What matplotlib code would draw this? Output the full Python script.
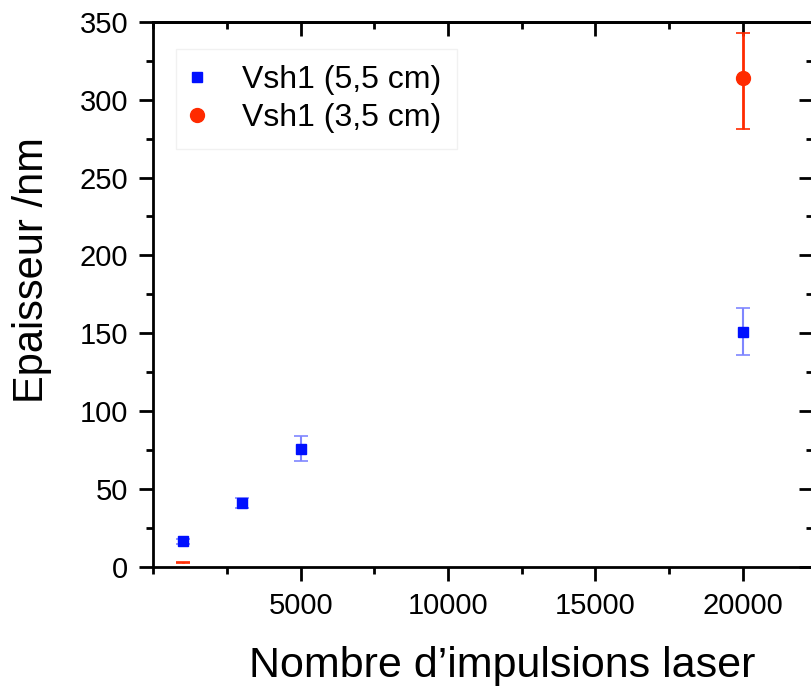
import numpy as np
import matplotlib
matplotlib.use("Agg")
import matplotlib.pyplot as plt
import matplotlib.lines as mlines
from matplotlib.ticker import MultipleLocator

plt.rcParams['font.family'] = ['Liberation Sans', 'DejaVu Sans']

# donnees
pulses_55 = [1000, 3000, 5000, 20000]
thick_55 = [16.5, 41, 76, 151]
err_55 = [1.5, 3, 8, 15]

pulses_35 = [1000, 20000]
thick_35 = [3, 314]
err_35_low = [0.5, 33]
err_35_high = [0.5, 29]

blue = '#0010ff'
red = '#ff2a00'

fig = plt.figure(figsize=(8.11, 6.91), dpi=100)
ax = fig.add_axes([0.189, 0.1795, 0.814, 0.789])

ax.errorbar(pulses_55, thick_55, yerr=err_55, fmt='s', color=blue, ms=7,
            ecolor='#7f86ff', elinewidth=1.5, capsize=5, capthick=1.2, zorder=3)
ax.errorbar(pulses_35, thick_35, yerr=[err_35_low, err_35_high], fmt='o',
            color=red, ms=10, markevery=[1], ecolor=red,
            elinewidth=2, capsize=5, capthick=1.2, zorder=2)

ax.set_xlim(0, 22400)
ax.set_ylim(0, 350)
ax.set_xticks([5000, 10000, 15000, 20000])
ax.xaxis.set_minor_locator(MultipleLocator(2500))
ax.yaxis.set_major_locator(MultipleLocator(50))
ax.yaxis.set_minor_locator(MultipleLocator(25))

ax.tick_params(axis='both', which='major', width=2, length=10,
               direction='out', pad=8, labelsize=21)
ax.tick_params(axis='both', which='minor', width=2, length=5, direction='out')
for s in ax.spines.values():
    s.set_linewidth(2)

# axes du haut et de droite : graduations vers l'interieur
top = ax.secondary_xaxis('top')
top.set_xticks([5000, 10000, 15000, 20000])
top.xaxis.set_minor_locator(MultipleLocator(2500))
top.tick_params(which='major', direction='in', width=2, length=10, labeltop=False)
top.tick_params(which='minor', direction='in', width=2, length=5)
top.spines['top'].set_linewidth(2)
right = ax.secondary_yaxis('right')
right.yaxis.set_major_locator(MultipleLocator(50))
right.yaxis.set_minor_locator(MultipleLocator(25))
right.tick_params(which='major', direction='in', width=2, length=10, labelright=False)
right.tick_params(which='minor', direction='in', width=2, length=5)
right.spines['right'].set_linewidth(2)

ax.set_xlabel("Nombre d\u2019impulsions laser", fontsize=31)
ax.set_ylabel("Epaisseur /nm", fontsize=30)
ax.xaxis.set_label_coords(0.529, -0.145)
ax.yaxis.set_label_coords(-0.153, 0.545)

h55 = mlines.Line2D([], [], ls='none', marker='s', color=blue, ms=7)
h35 = mlines.Line2D([], [], ls='none', marker='o', color=red, ms=10)
leg = ax.legend([h55, h35], ['Vsh1 (5,5 cm)', 'Vsh1 (3,5 cm)'],
                loc='upper left', bbox_to_anchor=(0.035, 0.95), fontsize=23,
                frameon=True, fancybox=False, borderaxespad=0,
                handletextpad=1.25, borderpad=0.5, labelspacing=0.25,
                handlelength=0.3)
leg.get_frame().set_edgecolor('#eeeeee')
leg.get_frame().set_linewidth(1)

fig.savefig('out.png', dpi=100)
